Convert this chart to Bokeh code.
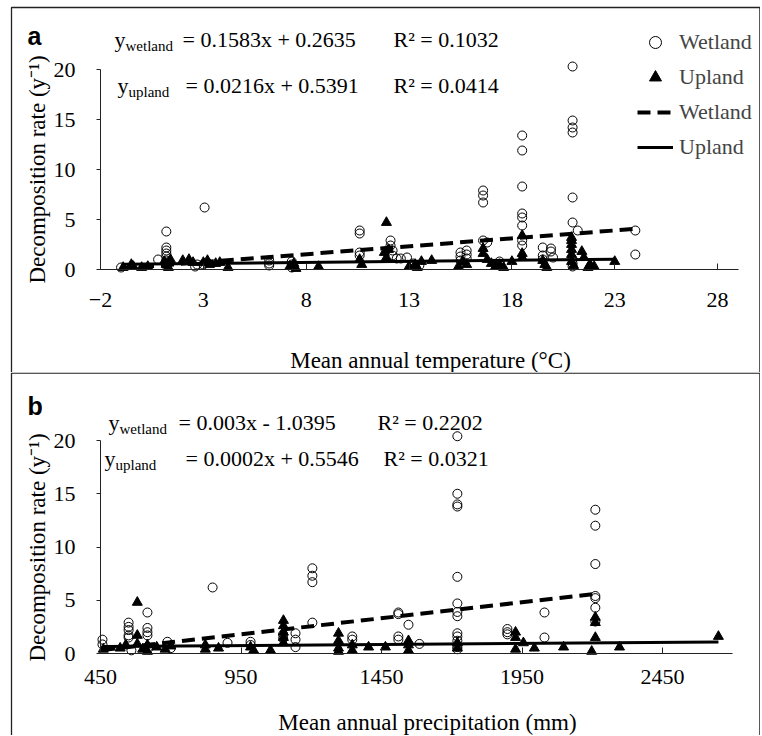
import math
from bokeh.plotting import figure
from bokeh.layouts import column
from bokeh.models import Label, Legend, LegendItem, FixedTicker, Range1d, BoxAnnotation
from bokeh.embed import file_html
from bokeh.resources import INLINE

# ---------------- data: panel a (temperature) ----------------
ta_wet_x = [-1.0, 0.8, 1.2, 1.2, 1.2, 1.2, 1.2, 1.2, 1.2, 1.2, 2.6, 2.7, 3.06, 3.0,
            6.2, 6.2, 6.2, 7.3, 7.3, 7.3, 10.6, 10.6, 10.6, 10.6,
            12.1, 12.1, 12.2, 12.2, 12.4, 12.6, 12.9, 13.2, 13.5,
            15.5, 15.5, 15.5, 15.8, 15.8, 15.8,
            16.6, 16.6, 16.6, 16.6, 16.8, 17.4, 17.4,
            18.5, 18.5, 18.5, 18.5, 18.5, 18.5, 18.5, 18.5,
            19.5, 19.5, 19.5, 19.9, 19.9, 20.0,
            20.95, 20.95, 20.95, 20.95, 20.95, 20.95, 20.95, 20.95, 20.95, 21.2,
            24.0, 24.0]
ta_wet_y = [0.2, 1.0, 3.8, 2.2, 1.9, 1.6, 1.3, 0.9, 0.6, 0.4, 0.3, 0.5, 6.2, 0.5,
            0.9, 0.6, 0.4, 0.8, 0.5, 0.2, 3.9, 3.6, 1.7, 1.4,
            2.9, 2.4, 1.9, 1.4, 1.1, 1.1, 1.2, 0.6, 0.4,
            1.7, 1.3, 0.9, 1.9, 1.5, 1.1,
            7.9, 7.4, 6.7, 2.9, 2.7, 0.8, 0.5,
            13.4, 11.9, 8.3, 5.6, 5.2, 4.4, 2.9, 2.4,
            2.2, 1.4, 1.0, 2.1, 1.8, 1.2,
            20.3, 14.9, 14.2, 13.7, 7.2, 4.7, 1.0, 0.6, 0.3, 3.9,
            3.9, 1.5]
ta_up_x = [-0.9, -0.5, -0.4, 0.0, 0.3, 1.1, 1.2, 1.3, 1.4, 2.0, 2.3, 2.5,
           3.0, 3.2, 3.3, 3.6, 3.8, 4.2, 7.2, 7.4, 7.5, 8.6, 10.6, 10.7,
           11.9, 11.8, 12.0, 11.9, 13.0, 13.3, 13.6, 14.1, 13.4,
           15.4, 15.6, 15.8, 16.6, 16.6, 16.8, 17.0, 17.2, 17.4, 17.6, 18.0,
           18.5, 18.5, 18.5, 19.6, 19.5, 19.7,
           20.9, 20.9, 20.9, 20.9, 20.9, 20.9, 21.0,
           21.4, 21.5, 21.8, 21.7, 22.0, 23.0]
ta_up_y = [0.2, 0.5, 0.3, 0.2, 0.3, 0.8, 0.5, 0.2, 1.0, 0.9, 1.0, 0.7,
           0.7, 0.9, 0.5, 0.6, 0.7, 0.2, 0.3, 0.6, 0.1, 0.3, 1.0, 0.5,
           4.7, 1.7, 2.0, 1.2, 0.3, 0.5, 0.8, 0.9, 0.2,
           0.3, 0.8, 0.5, 2.1, 1.6, 1.0, 0.6, 0.3, 0.5, 0.2, 0.8,
           3.4, 1.6, 1.2, 0.5, 0.9, 0.2,
           3.2, 2.9, 2.5, 2.0, 1.5, 0.8, 0.4,
           1.8, 1.2, 0.5, 0.2, 0.3, 0.8]

# ---------------- data: panel b (precipitation) ----------------
pb_wet_x = [457, 457, 550, 550, 550, 550, 550, 560, 617, 617, 617, 617, 620,
            688, 700, 849, 902, 984, 984, 1100, 1100, 1144, 1144, 1144,
            1204, 1204, 1204, 1204, 1346, 1346, 1510, 1510, 1510, 1510, 1546, 1585,
            1720, 1720, 1720, 1720, 1720, 1720, 1720, 1720, 1720, 1720, 1720, 1720, 1720,
            1898, 1898, 1898, 2030, 2030,
            2211, 2211, 2211, 2211, 2211, 2211, 2211]
pb_wet_y = [1.3, 0.85, 2.9, 2.5, 2.2, 1.7, 1.5, 0.3, 3.85, 2.4, 2.0, 1.7, 0.5,
            1.1, 0.5, 6.2, 1.0, 1.1, 0.8, 1.8, 1.4, 1.9, 1.3, 0.6,
            8.0, 7.3, 6.7, 2.9, 1.6, 1.3, 3.85, 3.7, 1.6, 1.3, 2.7, 0.9,
            20.4, 15.0, 14.0, 13.8, 7.2, 4.7, 3.9, 3.5, 1.9, 1.6, 1.2, 0.6, 0.4,
            2.3, 2.0, 1.8, 3.85, 1.5,
            13.5, 12.0, 8.4, 5.4, 5.2, 4.3, 3.0]
pb_up_x = [460, 520, 540, 581, 581, 581, 600, 617, 617, 650, 680, 700,
           823, 823, 870, 984, 995, 1055, 1101, 1101, 1101, 1101, 1101,
           1297, 1297, 1297, 1297, 1346, 1346, 1404, 1464, 1546, 1546, 1546,
           1720, 1720, 1927, 1927, 1927, 1955, 1994, 2098, 2198,
           2211, 2211, 2211, 2297, 2649]
pb_up_y = [0.4, 0.5, 0.8, 4.8, 1.7, 0.9, 0.4, 0.2, 0.8, 0.6, 0.4, 0.7,
           0.4, 0.8, 0.5, 0.6, 0.3, 0.3, 3.1, 2.6, 2.0, 1.5, 1.0,
           1.9, 1.2, 0.5, 0.2, 0.8, 0.3, 0.6, 0.6, 1.2, 0.8, 0.3,
           1.0, 0.5, 2.0, 1.5, 0.4, 1.0, 0.5, 0.6, 0.2,
           3.4, 2.9, 1.5, 0.6, 1.6]

# trend-line coefficients (slope, intercept)
fit_a_wet = (0.1583, 0.2635)
fit_a_up = (0.0216, 0.5391)
fit_b_wet = (0.003, -1.0395)
fit_b_up = (0.0002, 0.5546)

# text
eq_a = [("wetland", "= 0.1583x + 0.2635", "R\u00b2 = 0.1032"),
        ("upland", "= 0.0216x + 0.5391", "R\u00b2 = 0.0414")]
eq_b = [("wetland", "= 0.003x - 1.0395", "R\u00b2 = 0.2202"),
        ("upland", "= 0.0002x + 0.5546", "R\u00b2 = 0.0321")]
y_ticks = [0, 5, 10, 15, 20]
xa_ticks = [-2, 3, 8, 13, 18, 23, 28]
xb_ticks = [450, 950, 1450, 1950, 2450]
y_title = "Decomposition rate (y\u207b\u00b9)"
xa_title = "Mean annual temperature (\u00b0C)"
xb_title = "Mean annual precipitation (mm)"

SERIF = "Liberation Serif"
W = 760

# layout (page pixels)
HA, HB = 372, 363
AX_LEFT = 100             # page x of the y axis
A_ZERO, A_PPY = 269, 10.0  # page y of y=0 and px per unit, panel a
A_PPX = 20.57              # px per degree
B_ZERO, B_PPY = 653, 10.65
B_PPX = 0.281              # px per mm
XA0, XB0 = -2, 450


def conv_a(px, py):
    return XA0 + (px - AX_LEFT) / A_PPX, (A_ZERO - py) / A_PPY


def conv_b(px, py):
    return XB0 + (px - AX_LEFT) / B_PPX, (B_ZERO - py) / B_PPY


def make_fig(height, conv, top_page, xbounds, xticks, lab_standoff):
    x0, y1 = conv(0, top_page)
    x1, y0 = conv(W, top_page + height)
    p = figure(width=W, height=height, x_range=Range1d(x0, x1), y_range=Range1d(y0, y1),
               output_backend="svg", toolbar_location=None,
               min_border_left=0, min_border_right=0, min_border_top=0,
               min_border_bottom=0, min_border=0)
    p.grid.visible = False
    p.outline_line_color = None
    ya = p.yaxis[0]
    ya.fixed_location = xbounds[0]
    ya.bounds = (0, 20)
    ya.ticker = FixedTicker(ticks=y_ticks)
    ya.major_tick_out = 4
    ya.major_tick_in = 0
    ya.major_label_standoff = 21
    xa = p.xaxis[0]
    xa.fixed_location = 0
    xa.bounds = xbounds
    xa.ticker = FixedTicker(ticks=xticks)
    xa.major_tick_out = 0
    xa.major_tick_in = 6
    xa.major_label_standoff = lab_standoff
    for ax in (xa, ya):
        ax.minor_tick_out = 0
        ax.minor_tick_in = 0
        ax.axis_line_color = "#222"
        ax.major_tick_line_color = "#222"
        ax.major_label_text_font = SERIF
        ax.major_label_text_font_size = "22px"
        ax.major_label_text_color = "black"
    return p


def draw(p, wx, wy, ux, uy, fw, fu):
    rw = p.scatter(wx, wy, marker="circle", size=9, fill_color=None,
                   line_color="black", line_width=1)
    ru = p.scatter(ux, uy, marker="triangle", size=10, fill_color="black",
                   line_color="black")
    lwx = [min(wx), max(wx)]
    lux = [min(ux), max(ux)]
    lw = p.line(lwx, [fw[0] * v + fw[1] for v in lwx], line_color="black",
                line_width=4, line_dash="13 7")
    lu = p.line(lux, [fu[0] * v + fu[1] for v in lux], line_color="black",
                line_width=3)
    return rw, ru, lw, lu


def add_text(p, conv, px, py, text, size="22px", font=SERIF, bold=False,
             angle=0.0, align="left", baseline="alphabetic"):
    x, y = conv(px, py)
    p.add_layout(Label(x=x, y=y, text=text, text_font=font, text_font_size=size,
                       text_font_style="bold" if bold else "normal",
                       text_baseline=baseline, text_align=align, angle=angle,
                       text_color="black"))


def add_box(p, conv, left, top, right, bottom):
    x0, y1 = conv(left, top)
    x1, y0 = conv(right, bottom)
    p.add_layout(BoxAnnotation(left=x0, right=x1, bottom=y0, top=y1,
                               fill_alpha=0, line_color="#222", line_alpha=1.0,
                               line_width=1.3, level="underlay"))


# ---------------- panel a ----------------
pa = make_fig(HA, conv_a, 0, (-2, 29), xa_ticks, 23)
add_box(pa, conv_a, 11, 7, 759.4, 373.5)
rw, ru, lw, lu = draw(pa, ta_wet_x, ta_wet_y, ta_up_x, ta_up_y, fit_a_wet, fit_a_up)

add_text(pa, conv_a, 27, 35, "a", size="25px", font="Liberation Sans", bold=True)
add_text(pa, conv_a, 37, 169, y_title, size="23px", angle=math.pi / 2,
         align="center", baseline="middle")
add_text(pa, conv_a, 430, 360, xa_title, size="23px", align="center")
rows_a = [(114, 39, 125, 45, 182, 393), (117, 85, 128, 91, 185, 393)]
for (yx, base, sx, sb, ex, rx), (sub, eq, r2) in zip(rows_a, eq_a):
    add_text(pa, conv_a, yx, base, "y")
    add_text(pa, conv_a, sx, sb, sub, size="15px")
    add_text(pa, conv_a, ex, base, eq)
    add_text(pa, conv_a, rx, base, r2)

legend = Legend(items=[LegendItem(label="Wetland", renderers=[rw]),
                       LegendItem(label="Upland", renderers=[ru]),
                       LegendItem(label="Wetland", renderers=[lw]),
                       LegendItem(label="Upland", renderers=[lu])],
                location=(637, HA - 27 - 135), border_line_color=None,
                background_fill_alpha=0, padding=0, margin=0, spacing=5,
                glyph_width=36, glyph_height=30, label_height=30, label_standoff=6,
                label_text_font=SERIF, label_text_font_size="22px")
pa.add_layout(legend)

# ---------------- panel b ----------------
pb = make_fig(HB, conv_b, HA, (450, 2700), xb_ticks, 16)
add_box(pb, conv_b, 11, HA + 0.6, 759.4, HA + HB + 5)
draw(pb, pb_wet_x, pb_wet_y, pb_up_x, pb_up_y, fit_b_wet, fit_b_up)

add_text(pb, conv_b, 27, 405, "b", size="25px", font="Liberation Sans", bold=True)
add_text(pb, conv_b, 37, 547, y_title, size="23px", angle=math.pi / 2,
         align="center", baseline="middle")
add_text(pb, conv_b, 427, 722, xb_title, size="23px", align="center")
rows_b = [(108, 422, 119, 428, 178, 377), (104, 458, 115, 464, 185, 383)]
for (yx, base, sx, sb, ex, rx), (sub, eq, r2) in zip(rows_b, eq_b):
    add_text(pb, conv_b, yx, base, "y")
    add_text(pb, conv_b, sx, sb, sub, size="15px")
    add_text(pb, conv_b, ex, base, eq)
    add_text(pb, conv_b, rx, base, r2)

layout = column(pa, pb)
open("out.html", "w").write(file_html(layout, INLINE))
